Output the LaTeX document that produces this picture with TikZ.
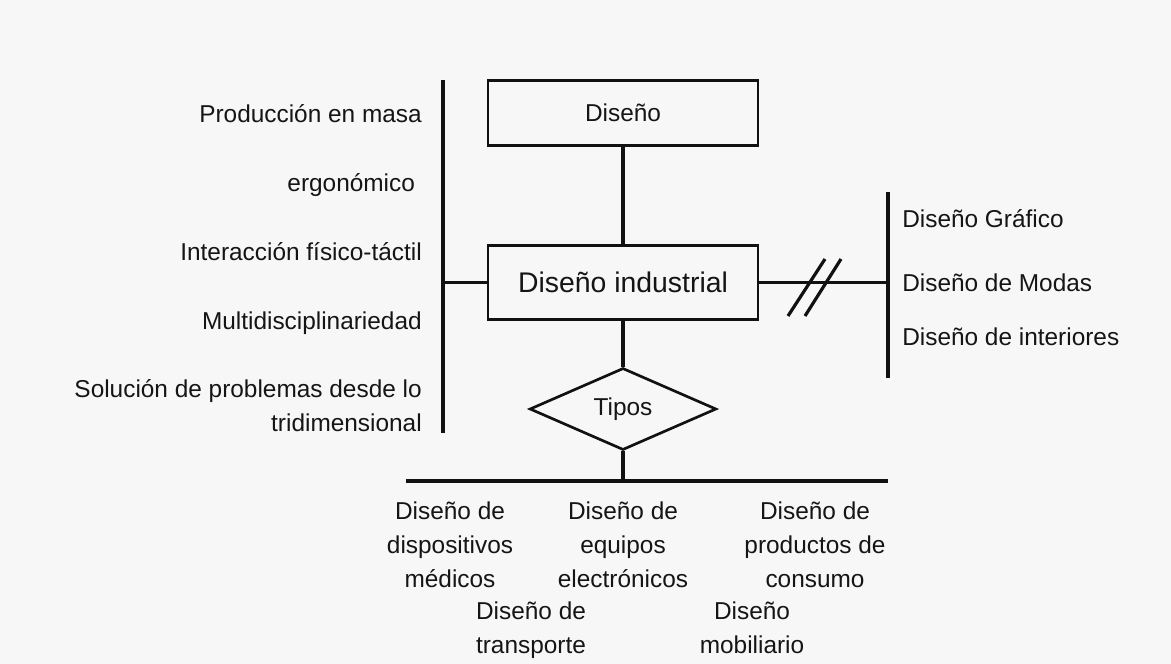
\documentclass[tikz,border=0pt]{standalone}
\usepackage{fontspec}
\setmainfont{Liberation Sans}
\usepackage{tikz}
\usetikzlibrary{positioning,shapes.geometric}

\definecolor{bgpaper}{HTML}{F7F7F7}
\definecolor{inkline}{HTML}{111111}
\definecolor{inktext}{HTML}{151515}
\newcommand\txtsize{\fontsize{18.3}{25.5}\selectfont}
\newcommand\bigsize{\fontsize{21.3}{25.5}\selectfont}

\begin{document}
\begin{tikzpicture}[x=0.75pt,y=-0.75pt]
	\tikzset{
		box/.style={draw=inkline,line width=2.2pt,minimum width=202.5pt,inner sep=0pt,text=inktext,font=\txtsize},
		tipo/.style={diamond,draw=inkline,line width=2pt,aspect=2.28,minimum width=140pt,minimum height=61.5pt,inner sep=0pt,text=inktext,font=\txtsize},
		bar/.style={draw=inkline,line width=3pt},
		link/.style={draw=inkline,line width=2.4pt},
		lefttxt/.style={anchor=base east,align=right,inner sep=0pt,text=inktext,font=\txtsize},
		righttxt/.style={anchor=base west,align=left,inner sep=0pt,text=inktext,font=\txtsize},
		bottxt/.style={anchor=base,align=center,inner sep=0pt,text=inktext,font=\txtsize}
	}
	\fill[bgpaper] (0,0) rectangle (1171,664);

	%% Main boxes
	\node[box,minimum height=48.75pt] (dis) at (623,113) {Diseño};
	\node[box,minimum height=55.5pt,font=\bigsize] (ind) at (623,282.5) {Diseño industrial};
	\node[tipo] (tip) at (623,409) {Tipos};

	%% Bars
	\coordinate (lt) at (443,80);
	\coordinate (lb) at (443,433);
	\coordinate (rt) at (888,192);
	\coordinate (rb) at (888,378);
	\coordinate (bl) at (406,481);
	\coordinate (br) at (888,481);
	\draw[bar] (lt) -- (lb);
	\draw[bar] (rt) -- (rb);
	\draw[bar] (bl) -- (br);

	\path[link]
		(dis) edge (ind)
		(ind) edge (tip)
		(ind.west) edge (ind.west -| lt)
		(ind.east) edge (ind.east -| rt)
		(tip.south) edge (tip.south |- bl);

	%% Break marks
	\draw[link] (788,316) -- (825,259);
	\draw[link] (805,316) -- (841,259);

	%% Left list (base = last line)
	\node[lefttxt] (l1) at (422,122.7) {Producción en masa};
	\node[lefttxt] (l2) at (422,191.7) {ergonómico\ };
	\node[lefttxt] (l3) at (422,260) {Interacción físico-táctil};
	\node[lefttxt] (l4) at (422,329.3) {Multidisciplinariedad};
	\node[lefttxt] (l5) at (422,431.7) {Solución de problemas desde lo\\tridimensional};

	%% Right list
	\node[righttxt] (r1) at (902,227.3) {Diseño Gráfico};
	\node[righttxt] (r2) at (902,291.7) {Diseño de Modas};
	\node[righttxt] (r3) at (902,345.7) {Diseño de interiores};

	%% Types
	\node[bottxt] (b1) at (450,587.5) {Diseño de\\dispositivos\\médicos};
	\node[bottxt] (b2) at (623,587.5) {Diseño de\\equipos\\electrónicos};
	\node[bottxt] (b3) at (815,587.5) {Diseño de\\productos de\\consumo};
	\node[bottxt] (b4) at (531,653.5) {Diseño de\\transporte};
	\node[bottxt] (b5) at (752,653.5) {Diseño\\mobiliario};
\end{tikzpicture}
\end{document}
